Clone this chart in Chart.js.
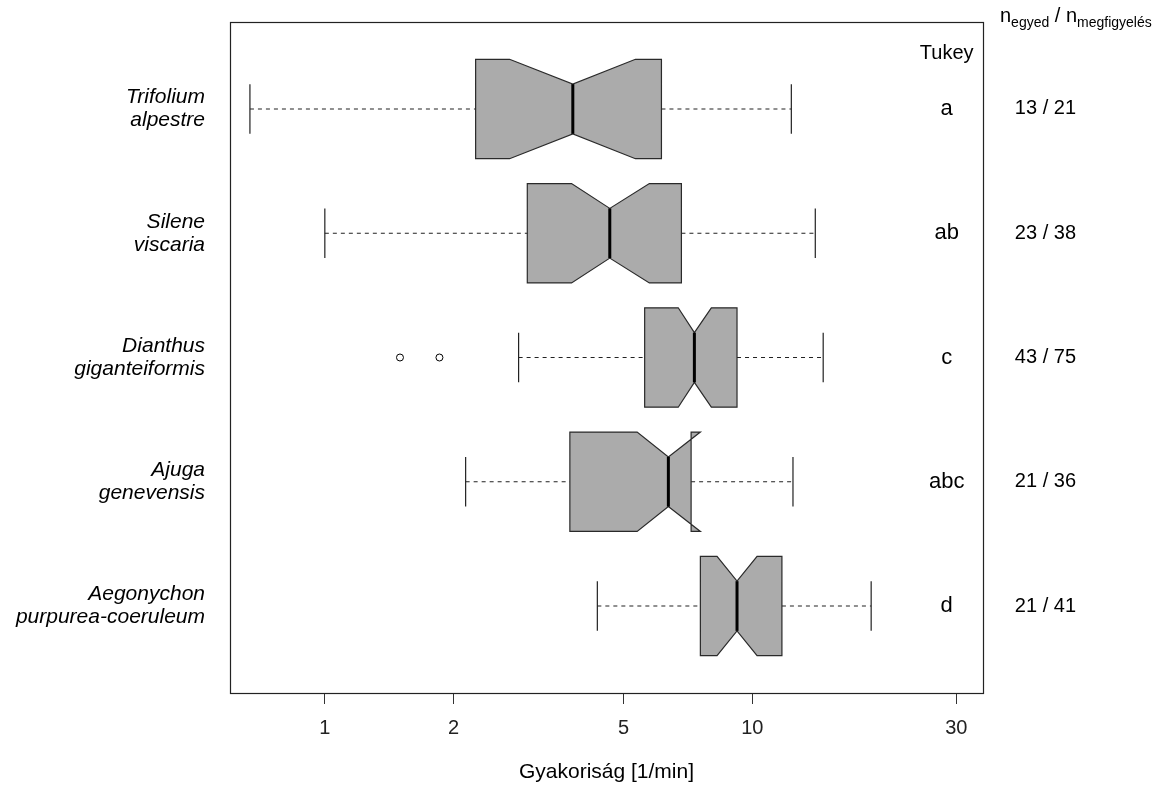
<!DOCTYPE html>
<html>
<head>
<meta charset="utf-8">
<title>Gyakoriság</title>
<script src="https://cdn.jsdelivr.net/npm/chart.js@4/dist/chart.umd.min.js"></script>
<style>
  html, body { margin: 0; padding: 0; background: #ffffff; }
</style>
</head>
<body>
<canvas id="box-chart" width="1162" height="785"></canvas>
<script>
// fajonkénti boxplot statisztikák (1/min, log skála)
const species = [
  ["Trifolium", "alpestre"],
  ["Silene", "viscaria"],
  ["Dianthus", "giganteiformis"],
  ["Ajuga", "genevensis"],
  ["Aegonychon", "purpurea-coeruleum"]
];
const whiskerLow  = [0.668, 1.0,   2.84,  2.135, 4.34];
const q1          = [2.253, 2.976, 5.60,  3.743, 7.56];
const notchLow    = [2.705, 3.777, 6.71,  5.378, 8.27];
const median      = [3.803, 4.641, 7.32,  6.363, 9.21];
const notchHigh   = [5.329, 5.744, 8.02,  7.56,  10.26];
const q3          = [6.13,  6.826, 9.21,  7.192, 11.73];
const whiskerHigh = [12.34, 14.04, 14.65, 12.45, 18.97];
const outliers = [
  { x: 1.499, y: 3 },
  { x: 1.854, y: 3 }
];
const tukey = ["a", "ab", "c", "abc", "d"];
const counts = ["13 / 21", "23 / 38", "43 / 75", "21 / 36", "21 / 41"];
const xTicks = [1, 2, 5, 10, 30];

const FONT = "'Liberation Sans', Arial, sans-serif";
const BOX_HALF = 0.4;    // doboz fél-szélessége (y egységben)
const NOTCH_HALF = 0.2;  // bevágás / median / whisker-vég fél-szélesség

const boxPlugin = {
  id: "notchedBoxes",
  beforeDatasetsDraw(chart) {
    const ctx = chart.ctx;
    const xs = chart.scales.x;
    const ys = chart.scales.y;
    const px = v => xs.getPixelForValue(v);
    const py = v => ys.getPixelForValue(v);

    ctx.save();
    for (let i = 0; i < species.length; i++) {
      const pos = i + 1;
      const yc = py(pos);
      const yTop = py(pos - BOX_HALF), yBot = py(pos + BOX_HALF);
      const yTopN = py(pos - NOTCH_HALF), yBotN = py(pos + NOTCH_HALF);

      // bajuszok (szaggatott)
      ctx.strokeStyle = "#222";
      ctx.lineWidth = 1.2;
      ctx.setLineDash([4, 4]);
      ctx.beginPath();
      ctx.moveTo(px(whiskerLow[i]), yc);
      ctx.lineTo(px(q1[i]), yc);
      ctx.moveTo(px(q3[i]), yc);
      ctx.lineTo(px(whiskerHigh[i]), yc);
      ctx.stroke();
      ctx.setLineDash([]);

      // bajusz végek
      ctx.beginPath();
      ctx.moveTo(px(whiskerLow[i]), yTopN);
      ctx.lineTo(px(whiskerLow[i]), yBotN);
      ctx.moveTo(px(whiskerHigh[i]), yTopN);
      ctx.lineTo(px(whiskerHigh[i]), yBotN);
      ctx.stroke();

      // bevágott doboz, R bxp sorrendjében
      ctx.beginPath();
      ctx.moveTo(px(q1[i]), yTop);
      ctx.lineTo(px(q1[i]), yBot);
      ctx.lineTo(px(notchLow[i]), yBot);
      ctx.lineTo(px(median[i]), yBotN);
      ctx.lineTo(px(notchHigh[i]), yBot);
      ctx.lineTo(px(q3[i]), yBot);
      ctx.lineTo(px(q3[i]), yTop);
      ctx.lineTo(px(notchHigh[i]), yTop);
      ctx.lineTo(px(median[i]), yTopN);
      ctx.lineTo(px(notchLow[i]), yTop);
      ctx.closePath();
      ctx.fillStyle = "#ababab";
      ctx.fill();
      ctx.lineWidth = 1.2;
      ctx.strokeStyle = "#2a2a2a";
      ctx.stroke();

      // medián
      ctx.strokeStyle = "#000";
      ctx.lineWidth = 3;
      ctx.beginPath();
      ctx.moveTo(px(median[i]), yTopN);
      ctx.lineTo(px(median[i]), yBotN);
      ctx.stroke();
    }
    ctx.restore();
  },
  afterDraw(chart) {
    const ctx = chart.ctx;
    const area = chart.chartArea;
    const xs = chart.scales.x;
    const ys = chart.scales.y;

    ctx.save();
    // keret
    ctx.strokeStyle = "#222";
    ctx.lineWidth = 1.2;
    ctx.strokeRect(area.left + 0.5, area.top + 0.5, area.right - area.left, area.bottom - area.top);

    ctx.fillStyle = "#000";
    ctx.textAlign = "center";
    ctx.textBaseline = "middle";

    // Tukey betűk
    const xLetters = xs.getPixelForValue(28.5);
    ctx.font = "20px " + FONT;
    ctx.fillText("Tukey", xLetters, 53);
    ctx.font = "22px " + FONT;
    tukey.forEach((t, i) => ctx.fillText(t, xLetters, ys.getPixelForValue(i + 1)));

    // egyed / megfigyelés számok
    const xCounts = xs.getPixelForValue(48.5);
    ctx.font = "20px " + FONT;
    counts.forEach((c, i) => ctx.fillText(c, xCounts, ys.getPixelForValue(i + 1)));

    // fejléc alsó indexekkel
    const parts = [
      ["n", 20, 0], ["egyed", 14, 5], [" / ", 20, 0], ["n", 20, 0], ["megfigyelés", 14, 5]
    ];
    ctx.textAlign = "left";
    ctx.textBaseline = "alphabetic";
    let x = 1000;
    parts.forEach(([s, size, dy]) => {
      ctx.font = size + "px " + FONT;
      ctx.fillText(s, x, 22 + dy);
      x += ctx.measureText(s).width;
    });
    ctx.restore();
  }
};

const ctx = document.getElementById("box-chart").getContext("2d");
const chart = new Chart(ctx, {
  type: "scatter",
  data: {
    datasets: [
      {
        label: "kiugró értékek",
        data: outliers,
        pointStyle: "circle",
        pointRadius: 3.5,
        pointHoverRadius: 3.5,
        backgroundColor: "#ffffff",
        borderColor: "#000000",
        borderWidth: 1
      }
    ]
  },
  options: {
    responsive: false,
    animation: false,
    devicePixelRatio: 1,
    layout: {
      padding: { left: 0, right: 179, top: 22, bottom: 0 }
    },
    plugins: {
      legend: { display: false },
      tooltip: { enabled: false }
    },
    scales: {
      x: {
        type: "logarithmic",
        position: "bottom",
        min: 0.6032,
        max: 34.65,
        afterBuildTicks: scale => {
          scale.ticks = xTicks.map(v => ({ value: v }));
        },
        afterFit: scale => {
          scale.height = 92;
          scale.paddingLeft = 0;
          scale.paddingRight = 0;
        },
        ticks: {
          callback: v => String(v),
          autoSkip: false,
          maxRotation: 0,
          padding: 12,
          color: "#222",
          font: { family: FONT, size: 20 }
        },
        grid: {
          drawOnChartArea: false,
          tickLength: 11,
          color: "#333"
        },
        border: { display: true, color: "#222" },
        title: {
          display: true,
          text: "Gyakoriság [1/min]",
          color: "#000",
          padding: { top: 12, bottom: 0 },
          font: { family: FONT, size: 21 }
        }
      },
      y: {
        type: "linear",
        position: "left",
        reverse: true,
        min: 0.3,
        max: 5.7,
        afterBuildTicks: scale => {
          scale.ticks = species.map((s, i) => ({ value: i + 1 }));
        },
        afterFit: scale => {
          scale.width = 230;
          scale.paddingTop = 0;
          scale.paddingBottom = 0;
        },
        ticks: {
          callback: v => species[v - 1],
          autoSkip: false,
          padding: 25,
          color: "#000",
          font: { family: FONT, size: 21, style: "italic", lineHeight: 1.1 }
        },
        grid: { display: false, drawTicks: false },
        border: { display: false }
      }
    }
  },
  plugins: [boxPlugin]
});
</script>
</body>
</html>
